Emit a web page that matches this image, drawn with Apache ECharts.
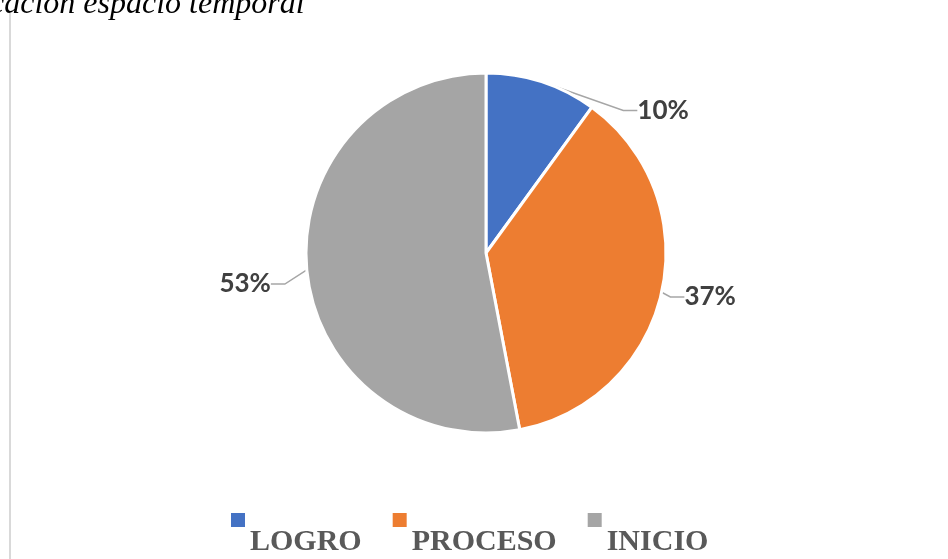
<!DOCTYPE html>
<html><head><meta charset="utf-8">
<script src="https://cdn.jsdelivr.net/npm/echarts@6/dist/echarts.min.js"></script>
<style>html,body{margin:0;padding:0;background:#fff}#c{width:948px;height:559px}</style>
</head><body><div id="c"></div>
<script>
const categories = ['LOGRO', 'PROCESO', 'INICIO'];
const values = [10, 37, 53];
const colors = ['#4472C4', '#ED7D31', '#A5A5A5'];
const titleText = 'cación espacio temporal';
// label nudges (style, not data)
const labelNudge = [[73, 40], [-8, 2], [-5, 13]];

const chart = echarts.init(document.getElementById('c'));
chart.setOption({
  animation: false,
  color: colors,
  graphic: [
    { type: 'text', x: -10, y: 5, style: { text: titleText, font: 'italic 32px "Liberation Serif"', fill: '#000', verticalAlign: 'middle' } },
    { type: 'line', shape: { x1: 10, y1: 13, x2: 10, y2: 559 }, style: { stroke: '#d9d9d9', lineWidth: 2 } }
  ],
  legend: {
    left: 231, top: 476, padding: 0,
    icon: 'rect', itemWidth: 14, itemHeight: 14, itemGap: 31,
    itemStyle: { borderWidth: 0 },
    formatter: name => '\n' + name,
    textStyle: { fontFamily: 'Liberation Serif', fontWeight: 'bold', fontSize: 30, lineHeight: 44, color: '#595959' },
    data: categories
  },
  series: [{
    type: 'pie',
    center: [486, 253],
    radius: 180,
    startAngle: 90,
    clockwise: true,
    data: categories.map((n, i) => ({ name: n, value: values[i] })),
    itemStyle: { borderColor: '#fff', borderWidth: 3 },
    label: {
      show: true,
      position: 'outside',
      formatter: p => p.value + '%',
      fontFamily: 'Lato', fontWeight: 'bold', fontSize: 26, color: '#404040'
    },
    labelLine: { show: true, length: 12, length2: 14, lineStyle: { color: '#a6a6a6', width: 1.5 } },
    labelLayout: p => ({
      x: p.labelRect.x + labelNudge[p.dataIndex][0],
      y: p.labelRect.y + labelNudge[p.dataIndex][1],
      align: 'left', verticalAlign: 'top'
    })
  }]
});
</script></body></html>
